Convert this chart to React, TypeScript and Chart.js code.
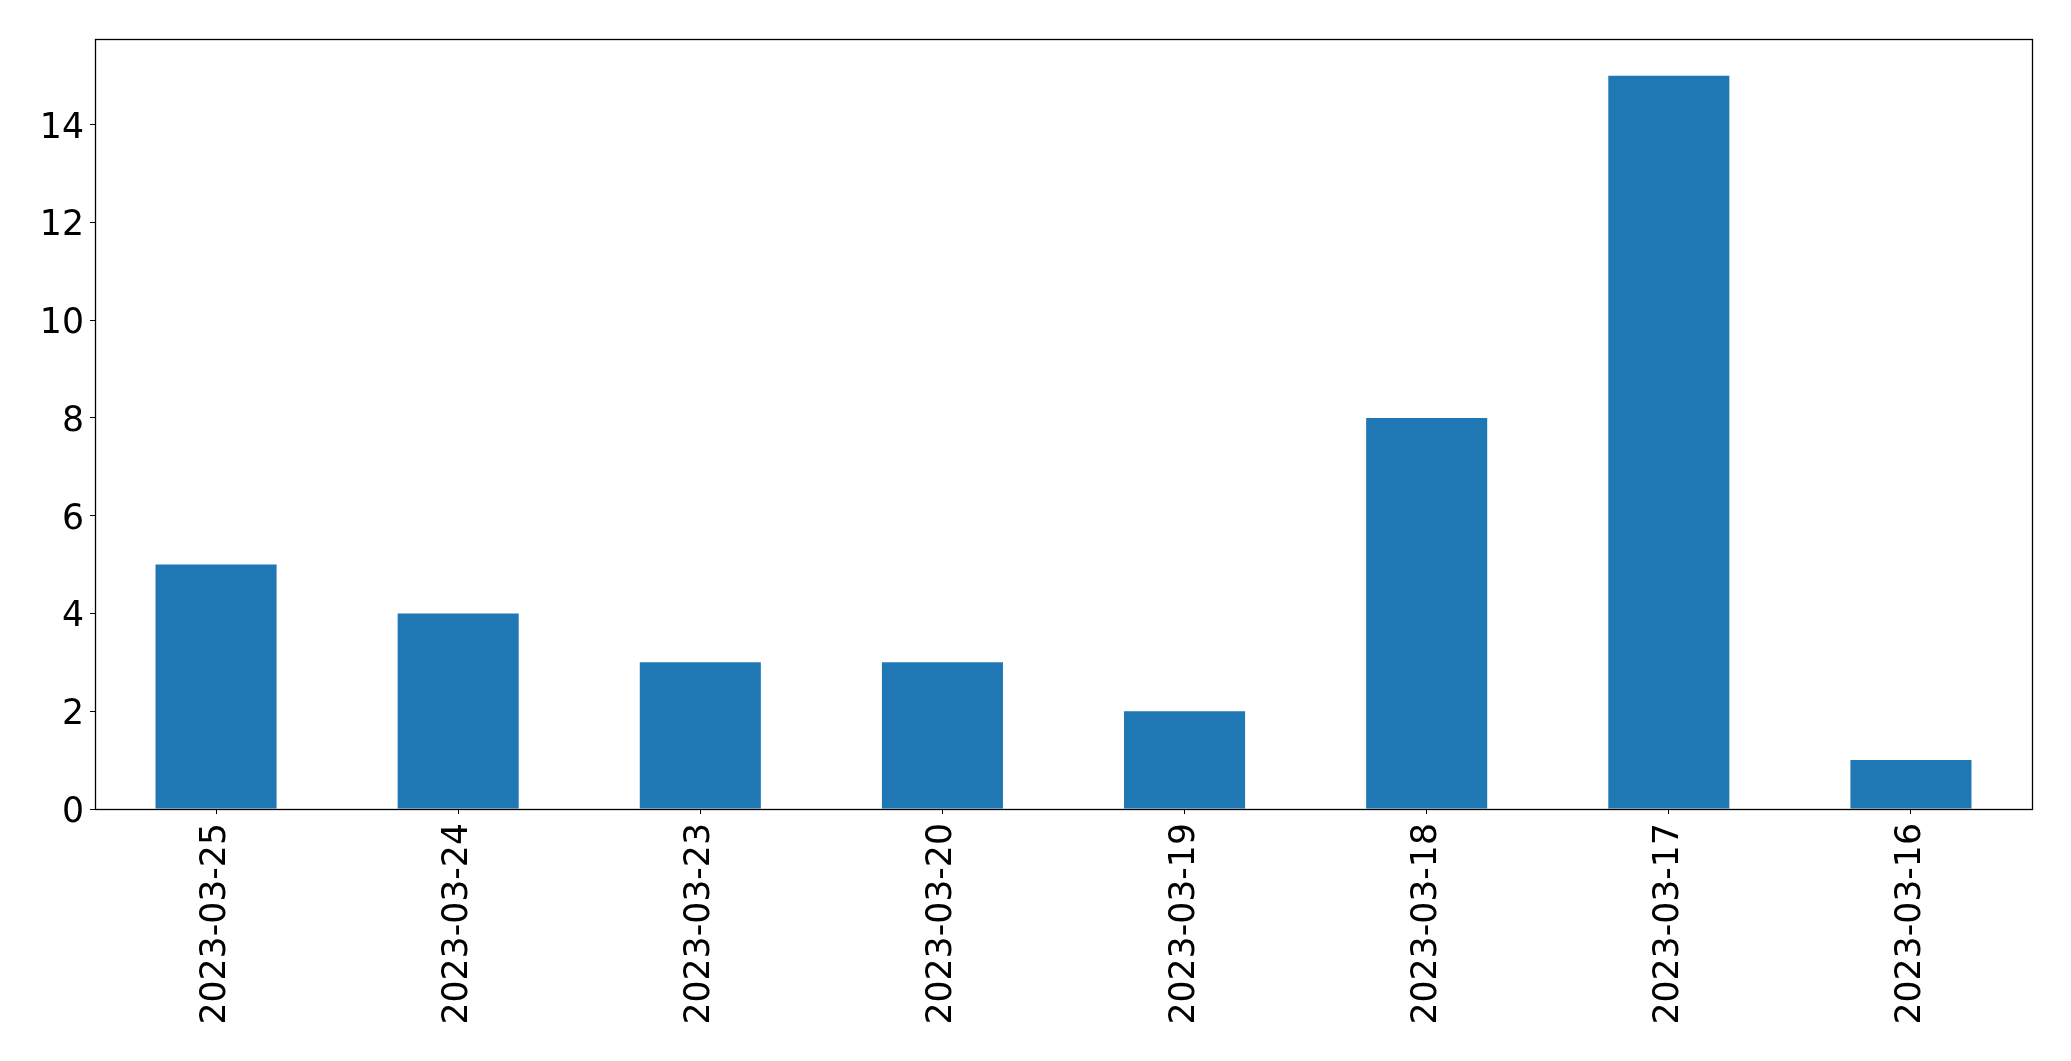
import React, { useEffect, useRef } from "react";
import { Chart, registerables } from "chart.js";

Chart.register(...registerables);

const categories = [
  "2023-03-25",
  "2023-03-24",
  "2023-03-23",
  "2023-03-20",
  "2023-03-19",
  "2023-03-18",
  "2023-03-17",
  "2023-03-16",
];
const counts = [5, 4, 3, 3, 2, 8, 15, 1];
const yTicks = [0, 2, 4, 6, 8, 10, 12, 14];
const yMax = 15.75;

const FONT = "'DejaVu Sans', sans-serif";

const framePlugin = {
  id: "frame",
  afterDraw(chart: any) {
    const { ctx, chartArea } = chart;
    const l = Math.round(chartArea.left) + 0.5;
    const t = Math.round(chartArea.top) + 0.5;
    const r = Math.round(chartArea.right) + 0.5;
    const b = Math.round(chartArea.bottom) + 0.5;
    ctx.save();
    ctx.strokeStyle = "#000";
    ctx.lineWidth = 1.3;
    ctx.strokeRect(l, t, r - l, b - t);
    ctx.restore();
  },
};

export default function App() {
  const ref = useRef<HTMLCanvasElement>(null);
  useEffect(() => {
    if (!ref.current) return;
    const chart = new Chart(ref.current, {
      type: "bar",
      data: {
        labels: categories,
        datasets: [
          {
            data: counts,
            backgroundColor: "#1f77b4",
            barPercentage: 0.5,
            categoryPercentage: 1.0,
          },
        ],
      },
      options: {
        animation: false,
        responsive: false,
        devicePixelRatio: 1,
        layout: { padding: { top: 39, right: 39, left: 0, bottom: 0 } },
        plugins: { legend: { display: false }, tooltip: { enabled: false } },
        scales: {
          x: {
            type: "category",
            offset: true,
            grid: { drawOnChartArea: false, drawTicks: true, tickLength: 5, color: "#000", offset: false },
            border: { display: false },
            ticks: {
              minRotation: 90,
              maxRotation: 90,
              autoSkip: false,
              color: "#000",
              padding: 9,
              font: { family: FONT, size: 34.7 },
            },
            afterFit: (scale: any) => {
              scale.height = 1061 - 809;
            },
          },
          y: {
            min: 0,
            max: yMax,
            grid: { drawOnChartArea: false, drawTicks: true, tickLength: 5, color: "#000" },
            border: { display: false },
            afterBuildTicks: (scale: any) => {
              scale.ticks = yTicks.map((v) => ({ value: v }));
            },
            ticks: {
              color: "#000",
              padding: 6,
              labelOffset: 4,
              font: { family: FONT, size: 34.7 },
            },
            afterFit: (scale: any) => {
              scale.width = 95;
            },
          },
        },
      },
      plugins: [framePlugin],
    });
    return () => chart.destroy();
  }, []);
  return (
    <div style={{ position: "fixed", left: 0, top: 0, width: 2071, height: 1061, background: "#fff" }}>
      <canvas ref={ref} width={2071} height={1061} style={{ width: 2071, height: 1061 }} />
    </div>
  );
}
